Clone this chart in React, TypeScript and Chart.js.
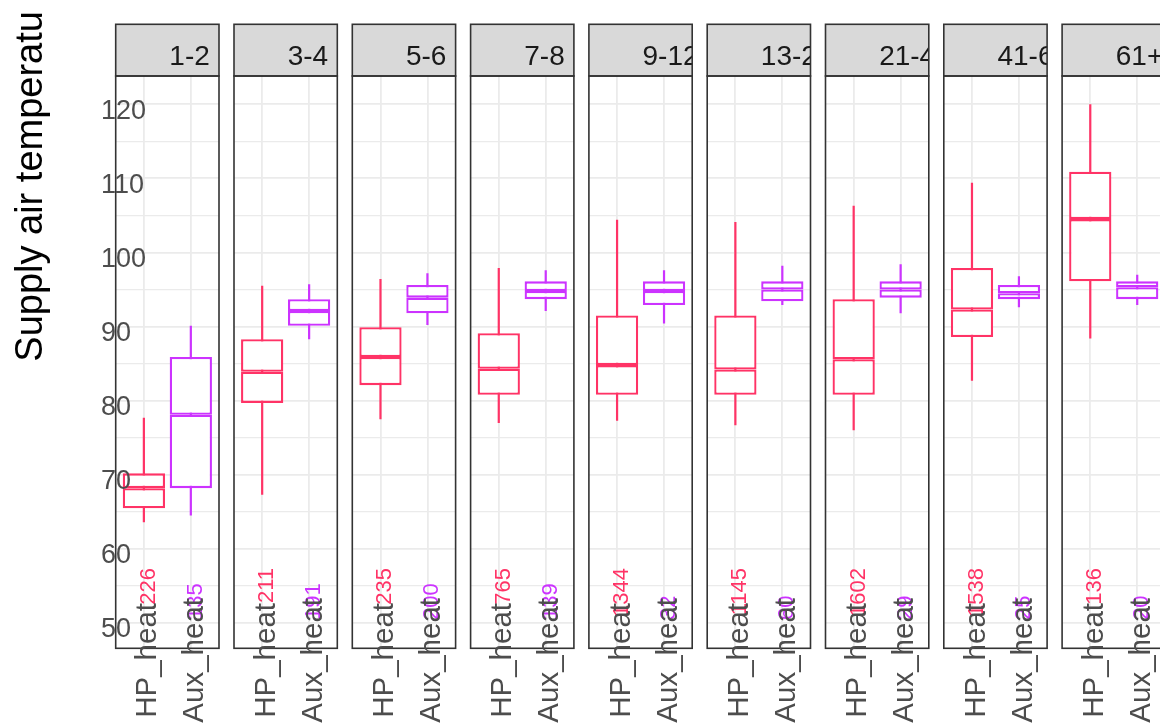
import React, { useEffect, useRef } from "react";
import { Chart, registerables } from "chart.js";

Chart.register(...registerables);

// facets (age bins) and boxes inside each facet
const ageBins = ["1-2", "3-4", "5-6", "7-8", "9-12", "13-20", "21-40", "41-60", "61+"];
const modes = ["HP_heat", "Aux_heat"];

// HP_heat box stats per facet
const hpMin = [63.6, 67.3, 77.5, 77.0, 77.3, 76.7, 76.0, 82.7, 88.4];
const hpQ1 = [65.5, 79.7, 82.1, 80.8, 80.8, 80.8, 80.8, 88.6, 96.1];
const hpMed = [68.2, 83.9, 85.9, 84.3, 84.8, 84.2, 85.6, 92.3, 104.5];
const hpQ3 = [70.2, 88.3, 89.9, 89.1, 91.5, 91.5, 93.7, 97.9, 110.9];
const hpMax = [77.7, 95.5, 96.4, 97.9, 104.4, 104.1, 106.3, 109.4, 120.0];

// Aux_heat box stats per facet
const auxMin = [64.5, 88.3, 90.2, 92.1, 90.4, 92.9, 91.8, 92.6, 92.9];
const auxQ1 = [68.2, 90.1, 91.8, 93.7, 92.9, 93.4, 93.9, 93.7, 93.7];
const auxMed = [78.1, 92.1, 93.9, 94.8, 94.8, 95.0, 95.0, 94.5, 95.3];
const auxQ3 = [85.9, 93.7, 95.6, 96.1, 96.1, 96.1, 96.1, 95.6, 96.1];
const auxMax = [90.1, 95.7, 97.2, 97.6, 97.6, 98.2, 98.4, 96.8, 97.0];

// sample counts printed in each panel
const hpCounts = ["226", "211", "235", "765", "1344", "1145", "1602", "1538", "136"];
const auxCounts = ["135", "191", "200", "139", "32", "60", "29", "25", "20"];

const yTickLabels = [50, 60, 70, 80, 90, 100, 110, 120];
const yMinorGrid = [55, 65, 75, 85, 95, 105, 115];

const Y_MIN = 46.6;
const Y_MAX = 123.8;

const HP_COLOR = "#FF3366";
const AUX_COLOR = "#CC33FF";
const GRID = "#EBEBEB";
const BORDER = "#333333";
const STRIP_FILL = "#D9D9D9";
const FONT = '"Liberation Sans", Arial, sans-serif';

// page layout (px)
const W = 1160;
const H = 724;
const PANEL_LEFT0 = 115.7;
const PANEL_STEP = 118.3;
const PANEL_W = 103.3;
const STRIP_TOP = 24.3;
const PANEL_TOP = 76;
const PANEL_BOTTOM = 648.3;
const LABEL_TOP = [603, 598];

const drawRotated = (
  ctx: CanvasRenderingContext2D,
  text: string,
  x: number,
  y: number,
  align: CanvasTextAlign,
  size: number,
  color: string
) => {
  ctx.save();
  ctx.translate(x, y);
  ctx.rotate(-Math.PI / 2);
  ctx.font = `${size}px ${FONT}`;
  ctx.fillStyle = color;
  ctx.textAlign = align;
  ctx.textBaseline = "alphabetic";
  ctx.fillText(text, 0, 0);
  ctx.restore();
};

const facetPlugin = (index: number) => ({
  id: "facet",
  afterDraw(chart: Chart) {
    const { ctx, chartArea: ca } = chart;
    const xs = chart.scales.x;
    const ys = chart.scales.y;
    const colors = [HP_COLOR, AUX_COLOR];
    const counts = [hpCounts[index], auxCounts[index]];

    ctx.save();
    // strip
    ctx.fillStyle = STRIP_FILL;
    ctx.fillRect(ca.left, STRIP_TOP, ca.width, ca.top - STRIP_TOP);
    ctx.save();
    ctx.beginPath();
    ctx.rect(ca.left, STRIP_TOP, ca.width, ca.top - STRIP_TOP);
    ctx.clip();
    ctx.fillStyle = "#1A1A1A";
    ctx.font = `28px ${FONT}`;
    ctx.textAlign = "left";
    ctx.textBaseline = "alphabetic";
    ctx.fillText(ageBins[index], (ca.left + ca.right) / 2 + 2, 65);
    ctx.restore();

    ctx.strokeStyle = BORDER;
    ctx.lineWidth = 1.6;
    ctx.strokeRect(ca.left, STRIP_TOP, ca.width, ca.top - STRIP_TOP);
    ctx.strokeRect(ca.left, ca.top, ca.width, ca.bottom - ca.top);

    // n labels inside the panel
    modes.forEach((m, k) => {
      const cx = xs.getPixelForValue(k + 1);
      if (k === 0) drawRotated(ctx, counts[k], cx + 11, 568, "right", 22, colors[k]);
      else drawRotated(ctx, counts[k], cx + 11, 620, "left", 22, colors[k]);
    });
    // x axis category labels
    modes.forEach((m, k) => {
      const cx = xs.getPixelForValue(k + 1);
      drawRotated(ctx, m, cx + 12.6, LABEL_TOP[k], "right", 29.5, "#4D4D4D");
    });

    if (index === 0) {
      ctx.font = `27px ${FONT}`;
      ctx.fillStyle = "#4D4D4D";
      ctx.textAlign = "left";
      ctx.textBaseline = "alphabetic";
      yTickLabels.forEach((v) => {
        ctx.fillText(String(v), 101, ys.getPixelForValue(v) + 14.4);
      });
      drawRotated(ctx, "Supply air temperatu", 42, 361.7, "left", 38, "#000000");
    }
    ctx.restore();
  },
});

const Panel = ({ index }: { index: number }) => {
  const canvasRef = useRef<HTMLCanvasElement | null>(null);
  const panelLeft = PANEL_LEFT0 + index * PANEL_STEP;
  const left = index === 0 ? 0 : Math.floor(panelLeft) - 4;
  const padLeft = panelLeft - left;
  const width = Math.ceil(padLeft + PANEL_W + 4);
  const padRight = width - padLeft - PANEL_W;

  useEffect(() => {
    const ctx = canvasRef.current?.getContext("2d");
    if (!ctx) return;
    const colors = [HP_COLOR, AUX_COLOR];
    const boxStyle = {
      backgroundColor: "#FFFFFF",
      borderColor: colors,
      borderWidth: 2.3,
      borderSkipped: false as const,
      barPercentage: 0.9,
      categoryPercentage: 1,
      grouped: false,
      inflateAmount: 0,
      order: 0,
    };

    const chart = new Chart(ctx, {
      type: "bar",
      data: {
        datasets: [
          {
            // lower half of the box (q1 to median)
            ...boxStyle,
            data: [
              { x: 1, y: [hpQ1[index], hpMed[index]] },
              { x: 2, y: [auxQ1[index], auxMed[index]] },
            ],
          },
          {
            // upper half of the box (median to q3)
            ...boxStyle,
            data: [
              { x: 1, y: [hpMed[index], hpQ3[index]] },
              { x: 2, y: [auxMed[index], auxQ3[index]] },
            ],
          },
          {
            // whiskers
            data: [
              { x: 1, y: [hpMin[index], hpMax[index]] },
              { x: 2, y: [auxMin[index], auxMax[index]] },
            ],
            backgroundColor: colors,
            borderWidth: 0,
            barThickness: 2.2,
            grouped: false,
            inflateAmount: 0,
            order: 1,
          },
        ] as any,
      },
      options: {
        animation: false,
        responsive: false,
        events: [],
        layout: {
          padding: {
            left: padLeft,
            right: padRight,
            top: PANEL_TOP,
            bottom: H - PANEL_BOTTOM,
          },
        },
        plugins: {
          legend: { display: false },
          tooltip: { enabled: false },
        },
        scales: {
          x: {
            type: "linear",
            min: 0.4,
            max: 2.6,
            offset: false,
            afterBuildTicks: (scale: any) => {
              scale.ticks = [{ value: 1 }, { value: 2 }];
            },
            ticks: { display: false },
            grid: { color: GRID, lineWidth: 1.8, drawTicks: false, offset: false },
            border: { display: false },
          },
          y: {
            type: "linear",
            min: Y_MIN,
            max: Y_MAX,
            afterBuildTicks: (scale: any) => {
              scale.ticks = [...yTickLabels, ...yMinorGrid]
                .sort((a, b) => a - b)
                .map((v) => ({ value: v }));
            },
            ticks: { display: false },
            grid: {
              color: GRID,
              lineWidth: (c: any) => (c.tick && c.tick.value % 10 === 0 ? 1.8 : 1.2),
              drawTicks: false,
            },
            border: { display: false },
          },
        },
      } as any,
      plugins: [facetPlugin(index)],
    });

    return () => {
      chart.destroy();
    };
  }, [index, padLeft, padRight]);

  return (
    <canvas
      ref={canvasRef}
      width={width}
      height={H}
      style={{ position: "absolute", left, top: 0, width, height: H }}
    />
  );
};

const App = () => {
  return (
    <div
      style={{
        position: "fixed",
        left: 0,
        top: 0,
        width: W,
        height: H,
        overflow: "hidden",
        background: "#FFFFFF",
      }}
    >
      {ageBins.map((b, i) => (
        <Panel key={b} index={i} />
      ))}
    </div>
  );
};

export default App;
